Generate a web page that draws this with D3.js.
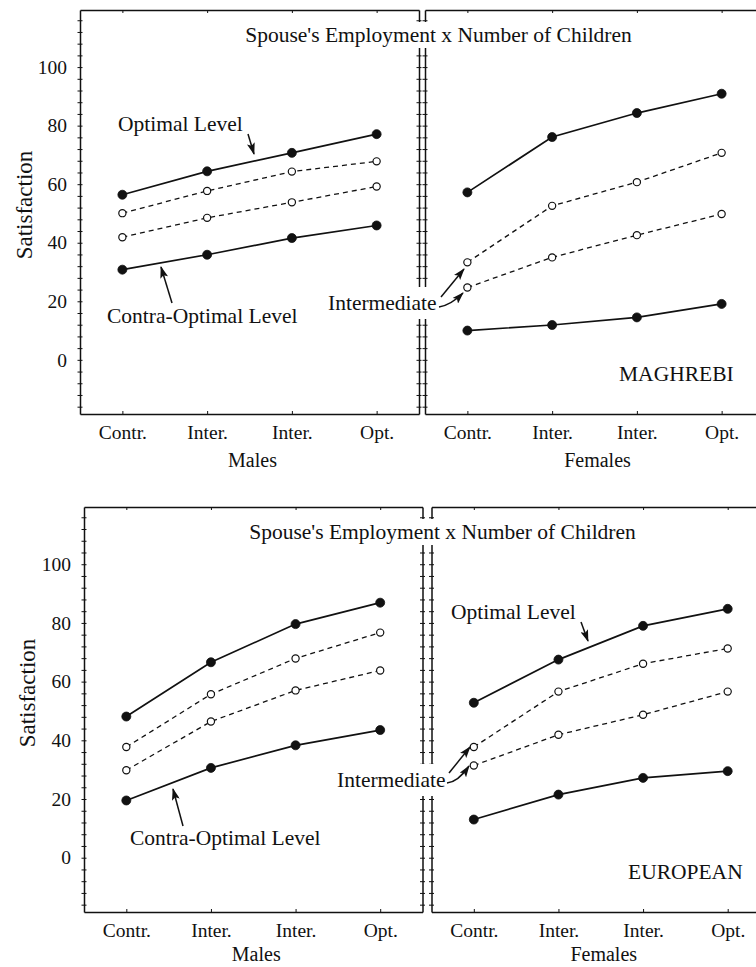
<!DOCTYPE html>
<html>
<head>
<meta charset="utf-8">
<script src="https://cdn.jsdelivr.net/npm/d3@7"></script>
<style>
  body { margin: 0; background: #fff; }
  svg { display: block; }
</style>
</head>
<body>
<div id="chart"></div>
<script>
// datos:
const xLabels = ["Contr.", "Inter.", "Inter.", "Opt."]
const yTicks = [0, 20, 40, 60, 80, 100]
const groups = ["MAGHREBI", "EUROPEAN"]
const sexes = ["Males", "Females"]
const title = "Spouse's Employment x Number of Children"

// MAGHREBI
const magMalesOpt = [56.4, 64.4, 70.7, 77.1]
const magMalesInt1 = [50.1, 57.7, 64.3, 67.8]
const magMalesInt2 = [41.9, 48.5, 53.8, 59.2]
const magMalesContra = [30.8, 35.9, 41.6, 45.9]
const magFemalesOpt = [57.2, 76.1, 84.3, 90.9]
const magFemalesInt1 = [33.3, 52.6, 60.7, 70.7]
const magFemalesInt2 = [24.7, 35.0, 42.6, 49.8]
const magFemalesContra = [10.0, 11.9, 14.5, 19.1]

// EUROPEAN
const eurMalesOpt = [48.1, 66.6, 79.6, 86.9]
const eurMalesInt1 = [37.7, 55.7, 67.9, 76.7]
const eurMalesInt2 = [29.8, 46.4, 57.0, 63.8]
const eurMalesContra = [19.5, 30.6, 38.3, 43.5]
const eurFemalesOpt = [52.8, 67.5, 79.0, 84.8]
const eurFemalesInt1 = [37.7, 56.6, 66.1, 71.3]
const eurFemalesInt2 = [31.4, 41.9, 48.7, 56.6]
const eurFemalesContra = [13.0, 21.5, 27.2, 29.5]

// Constantes:
const width = 756
const height = 967
const font = '"Liberation Serif", "Times New Roman", serif'
const ink = '#111'

// layout (pixeles) de las dos figuras
const figures = [
  {
    label: groups[0], top: 10, bottom: 414, xTitleDy: 53,
    panels: [{left: 80, right: 419}, {left: 425, right: 764}],
    series: [[magMalesOpt, magMalesInt1, magMalesInt2, magMalesContra],
             [magFemalesOpt, magFemalesInt1, magFemalesInt2, magFemalesContra]],
    titleX: 438.5, titleY: 42,
    labelX: 619, labelY: 381,
    satX: 32, satY: 205,
    notes: [
      {text: "Optimal Level", x: 118, y: 131},
      {text: "Contra-Optimal Level", x: 107, y: 323},
      {text: "Intermediate", x: 328, y: 310, box: true}
    ],
    arrows: [
      "M248,134 L254,154",
      "M172,303 L161,267",
      "M441,297 L464,269",
      "M439,307 Q451,305 463,293"
    ]
  },
  {
    label: groups[1], top: 507, bottom: 912, xTitleDy: 49,
    panels: [{left: 84, right: 422.5}, {left: 431.5, right: 770}],
    series: [[eurMalesOpt, eurMalesInt1, eurMalesInt2, eurMalesContra],
             [eurFemalesOpt, eurFemalesInt1, eurFemalesInt2, eurFemalesContra]],
    titleX: 442.5, titleY: 539,
    labelX: 628, labelY: 879,
    satX: 35, satY: 693,
    notes: [
      {text: "Optimal Level", x: 451, y: 619},
      {text: "Contra-Optimal Level", x: 130, y: 845},
      {text: "Intermediate", x: 337, y: 787, box: true}
    ],
    arrows: [
      "M581,622 L588,641",
      "M183,826 L173,789",
      "M449,773 L470,747",
      "M447,783 Q458,782 469,766"
    ]
  }
]

let svg = d3.select('div#chart').append('svg').attr('width', width).attr('height', height)

svg.append('defs').append('marker')
  .attr('id', 'arrow')
  .attr('markerUnits', 'userSpaceOnUse')
  .attr('markerWidth', 12).attr('markerHeight', 8)
  .attr('refX', 11).attr('refY', 4)
  .attr('orient', 'auto')
  .append('path')
  .attr('d', 'M0,0 L12,4 L0,8 L2.5,4 z')
  .attr('fill', ink)

figures.forEach(fig => drawFigure(fig))

function drawFigure(fig) {
  let g = svg.append('g')

  fig.panels.forEach((p, k) => {
    // escalas:
    let x = d3.scalePoint().domain(d3.range(xLabels.length)).range([p.left, p.right]).padding(0.5)
    let y = d3.scaleLinear().domain([-18.5, 119.5]).range([fig.bottom, fig.top])
    let minor = d3.range(-16, 120, 4)

    // ejes (marco):
    let left = g.append('g').attr('transform', `translate(${p.left},0)`)
      .call(d3.axisLeft(y).tickValues(minor).tickSizeOuter(0).tickPadding(7)
        .tickFormat(d => (k === 0 && yTicks.includes(d)) ? d : ""))
    let right = g.append('g').attr('transform', `translate(${p.right},0)`)
      .call(d3.axisRight(y).tickValues(minor).tickSizeOuter(0).tickFormat(""))
    ;[left, right].forEach(a => a.selectAll('.tick line').attr('x1', -2.5).attr('x2', 2.5))

    g.append('g').attr('transform', `translate(0,${fig.top})`)
      .call(d3.axisTop(x).tickSize(-3).tickSizeOuter(0).tickFormat(""))
    let bottom = g.append('g').attr('transform', `translate(0,${fig.bottom})`)
      .call(d3.axisBottom(x).tickSize(-3).tickSizeOuter(0).tickFormat(i => xLabels[i]))
    bottom.selectAll('.tick text').attr('y', 25).attr('dy', 0)

    g.selectAll('.domain').attr('stroke', ink).attr('stroke-width', 1.5)
    g.selectAll('.tick line').attr('stroke', ink).attr('stroke-width', 1)
    g.selectAll('g').attr('font-family', font).attr('font-size', 19.5)
    bottom.attr('font-size', 20)
    g.selectAll('.tick text').attr('fill', ink)

    // titulo del eje x
    g.append('text')
      .attr('x', (x(1) + x(2)) / 2 + 3).attr('y', fig.bottom + fig.xTitleDy)
      .attr('text-anchor', 'middle')
      .attr('font-family', font).attr('font-size', 20).attr('fill', ink)
      .text(sexes[k])

    // lineas y puntos:
    let line = d3.line().x((d, i) => x(i)).y(d => y(d))
    fig.series[k].forEach((s, j) => {
      let dashed = (j === 1 || j === 2)
      g.append('path')
        .attr('d', line(s))
        .attr('fill', 'none')
        .attr('stroke', ink)
        .attr('stroke-width', dashed ? 1.3 : 1.7)
        .attr('stroke-dasharray', dashed ? '5,4' : null)
      g.selectAll(null).data(s).enter().append('circle')
        .attr('cx', (d, i) => x(i))
        .attr('cy', d => y(d))
        .attr('r', dashed ? 3.6 : 4.5)
        .attr('fill', dashed ? '#fff' : ink)
        .attr('stroke', ink)
        .attr('stroke-width', dashed ? 1.2 : 0.8)
    })
  })

  // Satisfaction
  g.append('text')
    .attr('transform', `translate(${fig.satX},${fig.satY}) rotate(-90)`)
    .attr('text-anchor', 'middle')
    .attr('font-family', font).attr('font-size', 23).attr('fill', ink)
    .text('Satisfaction')

  // titulo con fondo blanco
  let t = g.append('text')
    .attr('x', fig.titleX).attr('y', fig.titleY)
    .attr('text-anchor', 'middle')
    .attr('font-family', font).attr('font-size', 21.5).attr('fill', ink)
    .text(title)
  whiteBox(g, t, 3, 3)

  // grupo
  g.append('text')
    .attr('x', fig.labelX).attr('y', fig.labelY)
    .attr('font-family', font).attr('font-size', 21.5).attr('fill', ink)
    .text(fig.label)

  // anotaciones
  fig.notes.forEach(n => {
    let tx = g.append('text')
      .attr('x', n.x).attr('y', n.y)
      .attr('font-family', font).attr('font-size', 21.5).attr('fill', ink)
      .text(n.text)
    if (n.box) whiteBox(g, tx, 1, 6)
  })

  fig.arrows.forEach(a => {
    g.append('path')
      .attr('d', a)
      .attr('fill', 'none')
      .attr('stroke', ink)
      .attr('stroke-width', 1.5)
      .attr('marker-end', 'url(#arrow)')
  })
}

function whiteBox(g, textSel, padX, padY) {
  let b = textSel.node().getBBox()
  g.insert('rect', () => textSel.node())
    .attr('x', b.x - padX).attr('y', b.y - padY + 2)
    .attr('width', b.width + 2 * padX).attr('height', b.height + 2 * padY - 4)
    .attr('fill', '#fff')
}
</script>
</body>
</html>
